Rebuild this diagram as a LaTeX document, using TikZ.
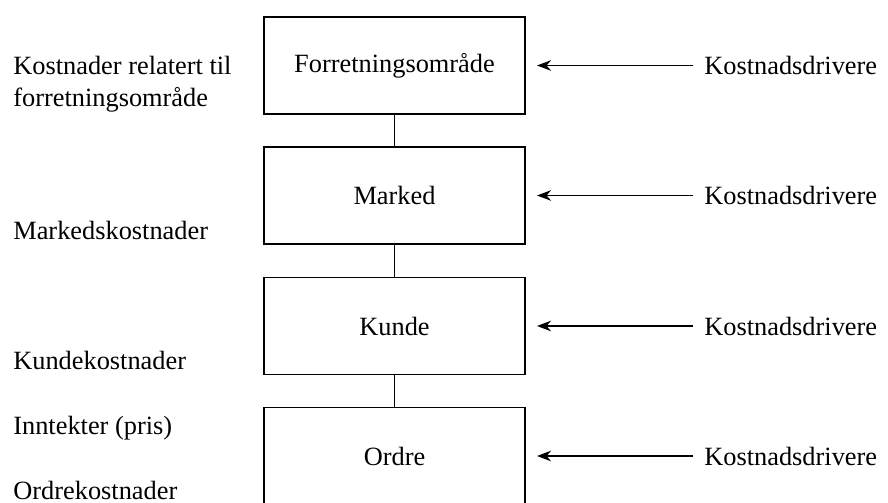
\documentclass[tikz,border=0pt]{standalone}
\usepackage{fontspec}
\setmainfont{Liberation Serif}
\usetikzlibrary{arrows.meta}
\tikzset{
  nivaa/.style={draw, line width=1.1pt, minimum width=5.22cm, minimum height=1.94cm, inner sep=0pt},
  merk/.style={anchor=west, align=left, inner sep=0pt},
  driver/.style={-{Stealth[length=8pt,width=6pt]}, line width=1.1pt}
}
\begin{document}
\begin{tikzpicture}[font=\fontsize{15}{18.2}\selectfont]
		\useasboundingbox (0,0) rectangle (17.76,10.04);
		
		\node[nivaa] (forr) at (7.89,8.73) {Forretningsområde};
		\node[nivaa] (marked) at (7.89,6.13) {Marked};
		\node[nivaa] (kunde) at (7.89,3.52) {Kunde};
		\node[nivaa] (ordre) at (7.89,0.92) {Ordre};
		\draw[line width=1.1pt] (forr) -- (marked);
		\draw[line width=1.1pt] (marked) -- (kunde);
		\draw[line width=1.1pt] (kunde) -- (ordre);
		
		\node[merk] (k1) at (0.26,8.36) {Kostnader relatert til\\forretningsområde};
		\node[merk] (k2) at (0.26,5.44) {Markedskostnader};
		\node[merk] (k3) at (0.26,2.84) {Kundekostnader};
		\node[merk] (k4) at (0.26,1.48) {Inntekter (pris)};
		\node[merk] (k5) at (0.26,0.24) {Ordrekostnader};
		
		\foreach \n/\y in {forr/8.73, marked/6.13, kunde/3.52, ordre/0.92} {
			\node[merk] (d\n) at (14.08,\y) {Kostnadsdrivere};
			\coordinate (h\n) at (10.74,\y);
			\draw[driver] (d\n.west) ++(-.22,0) -- (h\n);
		}
\end{tikzpicture}
\end{document}
